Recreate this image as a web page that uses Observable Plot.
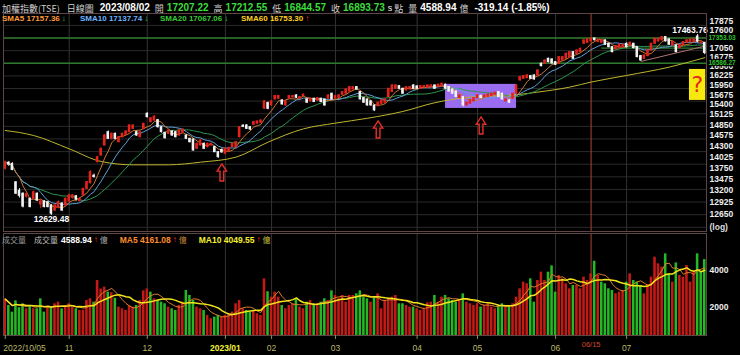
<!DOCTYPE html>
<html><head><meta charset="utf-8">
<script src="https://cdn.jsdelivr.net/npm/d3@7"></script>
<script src="https://cdn.jsdelivr.net/npm/@observablehq/plot@0.6"></script>
<style>
html,body{margin:0;padding:0;background:#000;}
#chart{position:relative;width:740px;height:355px;background:#000;overflow:hidden;font-family:"Liberation Sans","Noto Sans CJK TC",sans-serif;}
#chart svg{position:absolute;left:0;}
.row{position:absolute;white-space:nowrap;line-height:1;display:flex;align-items:center;}
.cjk{font-family:"Noto Sans CJK TC",sans-serif;}
.b{font-weight:bold;}
</style></head><body>
<div id="chart"></div>
<script>
// ---------- data ----------
const dates = [
"2022/10/05","2022/10/06","2022/10/07","2022/10/11","2022/10/12","2022/10/13","2022/10/14","2022/10/17","2022/10/18","2022/10/19","2022/10/20","2022/10/21","2022/10/24","2022/10/25","2022/10/26","2022/10/27","2022/10/28","2022/10/31",
"2022/11/01","2022/11/02","2022/11/03","2022/11/04","2022/11/07","2022/11/08","2022/11/09","2022/11/10","2022/11/11","2022/11/14","2022/11/15","2022/11/16","2022/11/17","2022/11/18","2022/11/21","2022/11/22","2022/11/23","2022/11/24","2022/11/25","2022/11/28","2022/11/29","2022/11/30",
"2022/12/01","2022/12/02","2022/12/05","2022/12/06","2022/12/07","2022/12/08","2022/12/09","2022/12/12","2022/12/13","2022/12/14","2022/12/15","2022/12/16","2022/12/19","2022/12/20","2022/12/21","2022/12/22","2022/12/23","2022/12/26","2022/12/27","2022/12/28","2022/12/29","2022/12/30",
"2023/01/03","2023/01/04","2023/01/05","2023/01/06","2023/01/09","2023/01/10","2023/01/11","2023/01/12","2023/01/13","2023/01/16","2023/01/17","2023/01/30","2023/01/31",
"2023/02/01","2023/02/02","2023/02/03","2023/02/06","2023/02/07","2023/02/08","2023/02/09","2023/02/10","2023/02/13","2023/02/14","2023/02/15","2023/02/16","2023/02/17","2023/02/20","2023/02/21","2023/02/22","2023/02/23","2023/02/24",
"2023/03/01","2023/03/02","2023/03/03","2023/03/06","2023/03/07","2023/03/08","2023/03/09","2023/03/10","2023/03/13","2023/03/14","2023/03/15","2023/03/16","2023/03/17","2023/03/20","2023/03/21","2023/03/22","2023/03/23","2023/03/24","2023/03/27","2023/03/28","2023/03/29","2023/03/30","2023/03/31",
"2023/04/06","2023/04/07","2023/04/10","2023/04/11","2023/04/12","2023/04/13","2023/04/14","2023/04/17","2023/04/18","2023/04/19","2023/04/20","2023/04/21","2023/04/24","2023/04/25","2023/04/26","2023/04/27","2023/04/28",
"2023/05/02","2023/05/03","2023/05/04","2023/05/05","2023/05/08","2023/05/09","2023/05/10","2023/05/11","2023/05/12","2023/05/15","2023/05/16","2023/05/17","2023/05/18","2023/05/19","2023/05/22","2023/05/23","2023/05/24","2023/05/25","2023/05/26","2023/05/29","2023/05/30","2023/05/31",
"2023/06/01","2023/06/02","2023/06/05","2023/06/06","2023/06/07","2023/06/08","2023/06/09","2023/06/12","2023/06/13","2023/06/14","2023/06/15","2023/06/16","2023/06/19","2023/06/20","2023/06/21","2023/06/26","2023/06/27","2023/06/28","2023/06/29","2023/06/30",
"2023/07/03","2023/07/04","2023/07/05","2023/07/06","2023/07/07","2023/07/10","2023/07/11","2023/07/12","2023/07/13","2023/07/14","2023/07/17","2023/07/18","2023/07/19","2023/07/20","2023/07/21","2023/07/24","2023/07/25","2023/07/26","2023/07/27","2023/07/28","2023/07/31",
"2023/08/01","2023/08/02"];

const open = [13730,13880,13850,13400,13200,13130,13060,13010,13010,13130,12880,12950,12930,12856,12740,12800,12900,12856,
12950,13030,13070,12960,13090,13245,13380,13560,13893,14061,14315,14660,14486,14616,14400,14530,14590,14660,14748,14660,14530,14748,
15151,14927,14970,14980,14792,14643,14616,14678,14660,14573,14643,14573,14486,14470,14230,14315,14357,14273,14315,14273,14145,14200,
14103,14160,14273,14273,14530,14830,14837,14792,14855,14885,14910,15288,15445,
15380,15546,15565,15519,15380,15565,15600,15658,15565,15640,15546,15492,15565,15510,15565,15546,15565,15705,
15565,15583,15677,15705,15769,15826,15893,15751,15583,15546,15492,15379,15361,15426,15455,15611,15751,15845,15921,15845,15798,15826,15940,
15912,15845,15880,15875,15885,15940,15893,15912,15960,15893,15826,15769,15583,15611,15380,15426,15492,
15583,15640,15602,15621,15640,15677,15751,15705,15492,15519,15565,15705,16084,16132,16151,16209,16228,16228,16570,16570,16720,16700,
16620,16570,16670,16720,16770,16920,16870,16920,17176,17207,17249,17340,17228,17207,17280,17176,17073,17002,17042,17073,
17176,17124,17176,17073,16800,16720,16800,16971,17176,17249,17280,17383,17310,17124,17124,17042,17124,17207,17228,17228,17400,
17200,17207.22];

const high = [13920,13910,13880,13420,13250,13150,13150,13030,13190,13150,12980,12970,12950,12880,12880,12960,12920,13030,
13120,13110,13090,13040,13260,13420,13680,13600,14040,14250,14600,14690,14640,14640,14550,14640,14700,14860,14860,14690,14680,14900,
15180,15050,15100,15000,14810,14660,14720,14700,14680,14730,14750,14590,14500,14480,14380,14470,14380,14380,14380,14290,14160,14230,
14250,14270,14380,14420,14810,14860,14860,14810,14950,14960,14990,15510,15470,
15510,15660,15660,15540,15510,15660,15660,15680,15630,15700,15560,15580,15580,15600,15580,15560,15680,15720,
15660,15680,15770,15840,15910,15910,15910,15770,15600,15560,15510,15390,15470,15540,15560,15860,15960,15960,15940,15860,15910,15910,15960,
15930,15940,15940,15960,15960,15960,15980,16010,15980,15910,15840,15780,15680,15630,15470,15540,15600,
15680,15670,15680,15700,15720,15750,15770,15720,15560,15540,15720,15960,16200,16230,16250,16230,16250,16390,16600,16690,16740,16720,
16640,16790,16790,16890,16940,16940,16990,17040,17300,17330,17353.03,17352,17330,17300,17300,17190,17090,17120,17160,17160,
17200,17230,17190,17090,16820,16840,16990,17190,17350,17350,17400,17400,17330,17240,17140,17140,17240,17300,17330,17330,17463.76,
17280,17212.55];

const low = [13700,13790,13680,13110,13030,12800,13030,12800,12990,12950,12780,12800,12800,12629.48,12720,12780,12720,12840,
12930,13000,12960,12930,13080,13230,13360,13500,13870,14040,14300,14470,14460,14460,14380,14510,14570,14640,14730,14550,14510,14720,
15040,14900,14950,14770,14640,14480,14600,14550,14510,14560,14620,14470,14380,14170,14210,14300,14210,14250,14300,14130,13990,14120,
14080,14140,14260,14260,14510,14780,14730,14700,14830,14860,14890,15270,15260,
15360,15530,15550,15390,15360,15550,15580,15570,15550,15620,15440,15480,15460,15500,15460,15360,15550,15530,
15550,15570,15660,15690,15750,15810,15810,15530,15440,15360,15360,15220,15340,15410,15440,15600,15740,15830,15830,15690,15780,15810,15830,
15830,15830,15870,15860,15870,15830,15880,15900,15830,15750,15690,15600,15570,15340,15360,15410,15480,
15570,15570,15590,15610,15630,15660,15600,15530,15480,15440,15550,15690,16060,16110,16130,16110,16090,16210,16480,16550,16600,16570,
16520,16550,16650,16700,16750,16700,16850,16900,17150,17190,17230,17260,17210,17190,17130,17050,16900,16980,17020,17050,
17050,17100,17020,16750,16640,16700,16780,16950,17160,17230,17260,17230,17130,17100,16900,17020,17100,17190,17210,17210,17200,
17150,16844.57];

const close = [13890,13830,13700,13130,13080,12830,13120,12820,13166,12970,12950,12820,12820,12666,12856,12933,12740,13010,
13088,13090,12990,13010,13245,13405,13647,13530,14019,14230,14573,14486,14616,14486,14530,14616,14678,14837,14837,14573,14660,14880,
15060,15030,15075,14792,14660,14503,14704,14573,14530,14704,14730,14486,14400,14187,14357,14443,14230,14357,14357,14145,14019,14137.69,
14230,14247,14357,14400,14792,14800,14748,14730,14927,14945,14970,15492,15288,
15492,15640,15640,15407,15492,15640,15640,15593,15611,15677,15455,15565,15473,15583,15473,15379,15658,15546,
15640,15658,15751,15826,15893,15893,15826,15546,15455,15379,15379,15243,15455,15519,15546,15845,15940,15940,15845,15705,15893,15893,15845,
15845,15921,15921,15940,15940,15845,15960,15989,15845,15769,15705,15611,15658,15379,15455,15519,15583,
15658,15583,15658,15677,15705,15733,15611,15546,15546,15455,15705,15940,16180,16209,16228,16132,16113,16374,16501,16670,16620,16578,
16540,16770,16770,16870,16920,16720,16971,17022,17280,17310,17331,17288,17310,17280,17145,17073,16920,17104,17145,17145,
17073,17207,17042,16770,16670,16820,16971,17176,17331,17331,17383,17249,17145,17228,16920,17124,17228,17280,17310,17310,17240,
17212.87,16893.73];

// 成交量 (億)
const volume = [2450,2110,1750,2360,1990,2200,1930,2110,1930,1930,2470,1750,1990,2020,2200,2290,1930,2100,
2200,2020,1930,1840,1850,2380,2470,2290,3460,3000,3100,2830,2800,2500,2020,1930,1840,2100,2020,2110,2380,2900,
3000,2830,2470,2380,2290,2200,2020,1930,1840,2110,2290,2920,2650,2380,2020,1930,1840,1570,1390,1480,1570,1480,
1570,1660,1750,2200,2380,1930,1840,1750,1840,1660,1570,3550,2850,
2560,2830,2560,2110,1930,2110,2200,2470,2020,1930,2290,2380,2200,2200,2290,2470,2380,2900,
2650,2470,2650,2290,2650,2650,2740,2900,2560,2470,2290,2560,2740,1930,2380,2470,2560,2650,2200,2200,2110,2020,2020,
1930,1840,1930,2250,2290,2650,2290,2560,2650,2470,2380,2290,2430,2740,2290,2200,2110,
2200,2020,2110,2200,2020,1930,2110,2200,2020,2110,2200,2560,3010,3370,3280,3550,2290,3460,3910,3460,3910,4250,
2830,3730,3550,3280,3010,3190,3190,3010,3640,3460,3820,4500,3730,3370,3280,3010,2920,2740,2830,2920,
3370,3820,3460,3370,3190,2740,3230,3640,4720,4360,4180,4900,3820,3370,4410,3730,3640,4270,3370,3910,4900,
3910,4588.94];

// SMA60
const sma60Dates = ["2022/10/05","2022/10/18","2022/11/01","2022/11/14","2022/11/25","2022/12/09","2022/12/22","2023/01/06","2023/01/31","2023/02/14","2023/03/01","2023/03/14","2023/03/28","2023/04/13","2023/04/27","2023/05/17","2023/05/25","2023/06/07","2023/06/15","2023/07/03","2023/07/19","2023/08/02"];
const sma60Vals = [14704,14573,14230,13910,13827,13827,13893,14019,14400,14748,14900,15030,15215,15455,15611,15677,15751,15893,16037,16228,16472,16753.30];

// axis ticks and labels
const priceTicks = [17875,17600,17050,16775,16500,16225,15950,15675,15400,15125,14850,14575,14300,14025,13750,13475,13200,12925,12650];
const gridLevels = [17750,17353.03,16965,16586.27,16215,15853,15499,15153,14814,14483,14159,13843,13533,13231,12935,12646,12363];
const keyLevels = [17353.03,16586.27];
const volTicks = [2000,4000];
const monthLabels = ["2022/10/05","11","12","2023/01","02","03","04","05","06","07"];
const monthDates = ["2022/10/05","2022/11/01","2022/12/01","2023/01/03","2023/02/01","2023/03/01","2023/04/06","2023/05/02","2023/06/01","2023/07/03"];
const markDate = "2023/06/15";

// annotations
const arrowDates = ["2022/12/30","2023/03/17","2023/05/03"];
const arrowPrices = [13640,14732,14837];
const boxDates = ["2023/04/18","2023/05/17"];
const boxPrices = [15297,15971];
const qBox = {x1:192.7, x2:197.3, lo:15518, hi:16404, xq:194.9, yq:15957};
const shortLevel = {from:"2023/06/20", price:17042};
const trendDates = ["2023/07/07","2023/08/02"];
const trendPrices = [16640,17103];

// header values
const hdr = {name:"加權指數(TSE)", kind:"日線圖", date:"2023/08/02", open:"17207.22", high:"17212.55", low:"16844.57", close:"16893.73", vol:"4588.94", chg:"-319.14 (-1.85%)"};
const smaLegend = [["SMA5","17157.36","↓"],["SMA10","17137.74","↓"],["SMA20","17067.06","↓"],["SMA60","16753.30","↑"]];
const volLegend = {vol:"4588.94", ma5:"4161.08", ma10:"4049.55"};

// ---------- build ----------
const n = dates.length;
const idx = d => dates.indexOf(d);
const days = dates.map((date,i)=>({i,date,open:open[i],high:high[i],low:low[i],close:close[i],vol:volume[i]}));
days.forEach((d,i)=>{ d.up = d.close >= d.open; d.vup = i===0 ? d.up : d.close >= days[i-1].close; });
const RED = "#e5231d", WHITE = "#f2f2f2";
const C5 = "#c97a35", C10 = "#5f9fd6", C20 = "#2d9650", C60 = "#bdb52e";
const font = "Liberation Sans, Noto Sans CJK TC, sans-serif";
const X = {type:"linear", domain:[-0.5, n-0.5], range:[3,706], axis:null};
const half = 0.36;
const monthIdx = monthDates.map(idx);
const markIdx = idx(markDate);
const sma60 = sma60Dates.map((d,k)=>({i:idx(d), v:sma60Vals[k]}));
const arrows = arrowDates.map((d,k)=>({i:idx(d), p:arrowPrices[k]}));
const box = {x1:idx(boxDates[0]), x2:idx(boxDates[1]), lo:boxPrices[0], hi:boxPrices[1]};
const trend = [{x1:idx(trendDates[0]), x2:idx(trendDates[1]), y1:trendPrices[0], y2:trendPrices[1]}];
const lowest = d3.least(days, d=>d.low);
const highest = d3.greatest(days, d=>d.high);

const upArrow = {draw(ctx, size){ const r = Math.sqrt(size/Math.PI);
  ctx.moveTo(0,-r); ctx.lineTo(0.55*r,-0.15*r); ctx.lineTo(0.22*r,-0.15*r); ctx.lineTo(0.22*r,r);
  ctx.lineTo(-0.22*r,r); ctx.lineTo(-0.22*r,-0.15*r); ctx.lineTo(-0.55*r,-0.15*r); ctx.closePath(); }};

const price = Plot.plot({
  width:740, height:232, marginTop:13, marginBottom:1, marginLeft:3, marginRight:34,
  style:{background:"#000", color:"#eee", fontFamily:font, overflow:"visible"},
  x: X,
  y: {type:"log", domain:[12650,17875], range:[214,21], axis:null},
  marks:[
    Plot.ruleY(gridLevels, {stroke:"#2a2a2a"}),
    Plot.ruleX(monthIdx.slice(1), {stroke:"#333"}),
    Plot.ruleY(keyLevels, {stroke:"#2c7a2c", strokeWidth:1.4}),
    Plot.ruleY([shortLevel], {y:"price", x1:idx(shortLevel.from), x2:n-0.5, stroke:"#2c7a2c", strokeWidth:1.2}),
    Plot.ruleX([markIdx], {stroke:"#a8452c"}),
    Plot.rect([box], {x1:"x1", x2:"x2", y1:"lo", y2:"hi", fill:"#9a6cf0"}),
    Plot.line(sma60, {x:"i", y:"v", stroke:C60, strokeWidth:1, curve:"monotone-x"}),
    Plot.lineY(days, Plot.windowY({k:20, anchor:"end"}, {x:"i", y:"close", stroke:C20, strokeWidth:1})),
    Plot.lineY(days, Plot.windowY({k:10, anchor:"end"}, {x:"i", y:"close", stroke:C10, strokeWidth:1})),
    Plot.lineY(days, Plot.windowY({k:5, anchor:"end"}, {x:"i", y:"close", stroke:C5, strokeWidth:1})),
    Plot.link(trend, {x1:"x1", x2:"x2", y1:"y1", y2:"y2", stroke:"#b27272", strokeWidth:1}),
    Plot.ruleX(days, {x:"i", y1:"low", y2:"high", stroke:d=>d.up?RED:WHITE, strokeWidth:1}),
    Plot.rect(days, {x1:d=>d.i-half, x2:d=>d.i+half, y1:"open", y2:"close", fill:d=>d.up?RED:WHITE, insetTop:-0.5, insetBottom:-0.5}),
    Plot.dot(arrows, {x:"i", y:"p", symbol:upArrow, r:8.5, stroke:"#e8302a", fill:"none", strokeWidth:1.4}),
    Plot.rect([qBox], {x1:"x1", x2:"x2", y1:"lo", y2:"hi", fill:"#f7e80e"}),
    Plot.text([qBox], {x:"xq", y:"yq", text:()=>"?", fill:"#e4281e", fontSize:22, fontFamily:"DejaVu Sans, sans-serif"}),
    Plot.text([lowest], {x:"i", y:"low", text:d=>d.low.toFixed(2), lineAnchor:"top", dy:1, fill:"#fff", fontSize:8.5, fontWeight:"bold"}),
    Plot.text([highest], {x:"i", y:"high", text:d=>d.high.toFixed(2), textAnchor:"end", dx:10, lineAnchor:"bottom", dy:-1, fill:"#fff", fontSize:8.5, fontWeight:"bold"}),
    Plot.frame({stroke:"#5e4646"}),
    Plot.text(priceTicks, {x:n-0.5, y:d=>d, text:d=>String(d), dx:3, textAnchor:"start", fill:"#eee", fontSize:8.5, fontWeight:"bold"}),
    Plot.text(keyLevels, {x:n-0.5, y:d=>d, text:d=>d.toFixed(2), dx:2, textAnchor:"start", fill:"#2fc02f", fontSize:6.5, fontWeight:"bold", stroke:"#000", strokeWidth:2.5}),
    Plot.text(["(log)"], {frameAnchor:"bottom-right", dx:3, dy:-2, textAnchor:"start", fill:"#ddd", fontSize:8.5, fontWeight:"bold"})
  ]
});
price.style.top = "0px";

const first = [{i:monthIdx[0], label:monthLabels[0]}];
const mids = monthLabels.map((l,k)=>({i:monthIdx[k], label:l})).slice(1);
const vol = Plot.plot({
  width:740, height:123, marginTop:1, marginBottom:20, marginLeft:3, marginRight:34,
  style:{background:"#000", color:"#eee", fontFamily:font, overflow:"visible"},
  x: X,
  y: {type:"linear", domain:[0,6000], range:[112,1], axis:null},
  marks:[
    Plot.ruleX(monthIdx.slice(1), {stroke:"#333"}),
    Plot.ruleX([markIdx], {stroke:"#a8452c"}),
    Plot.rect(days, {x1:d=>d.i-half, x2:d=>d.i+half, y1:0, y2:"vol", fill:d=>d.vup?"#c41a16":"#25b825", clip:true}),
    Plot.lineY(days, Plot.windowY({k:5, anchor:"end"}, {x:"i", y:"vol", stroke:"#e07d28", strokeWidth:1})),
    Plot.lineY(days, Plot.windowY({k:10, anchor:"end"}, {x:"i", y:"vol", stroke:"#f2e41c", strokeWidth:1.5})),
    Plot.frame({stroke:"#5e4646"}),
    Plot.text(volTicks, {x:n-0.5, y:d=>d, text:d=>String(d), dx:3, textAnchor:"start", fill:"#eee", fontSize:8.5, fontWeight:"bold"}),
    Plot.ruleX(monthIdx, {stroke:"#8a8a5a", insetTop:102, insetBottom:-4}),
    Plot.text(first, {x:"i", text:"label", frameAnchor:"bottom", dy:15, dx:-2, textAnchor:"start", fill:"#b9b968", fontSize:8.5}),
    Plot.text(mids.filter(d=>d.label!=="2023/01"), {x:"i", text:"label", frameAnchor:"bottom", dy:15, fill:"#b9b968", fontSize:8.5}),
    Plot.text(mids.filter(d=>d.label==="2023/01"), {x:"i", text:"label", frameAnchor:"bottom", dy:15, fill:"#f4f43a", fontSize:8.5, fontWeight:"bold"}),
    Plot.text([markIdx], {x:d=>d, text:()=>markDate.slice(5), frameAnchor:"bottom", dy:11, fill:"#d8452e", fontSize:7.5})
  ]
});
vol.style.top = "232px";

const chart = document.getElementById("chart");
chart.appendChild(price);
chart.appendChild(vol);

// header row 1
const G = "#3ddc3d";
const row1 = document.createElement("div");
row1.className = "row"; row1.style.left = "2px"; row1.style.top = "2px"; row1.style.height = "12px";
row1.innerHTML =
 `<span class="cjk" style="font-size:9px;color:#cfcfcf">${hdr.name}</span>`+
 `<span class="cjk" style="font-size:9px;color:#cfcfcf;margin-left:7px">${hdr.kind}</span>`+
 `<span class="b" style="font-size:10px;color:#fff;margin-left:6px">${hdr.date}</span>`+
 `<span class="cjk" style="font-size:9px;color:#cfcfcf;margin-left:5px">開</span><span class="b" style="font-size:10px;color:${G};margin-left:3px">${hdr.open}</span>`+
 `<span class="cjk" style="font-size:9px;color:#cfcfcf;margin-left:5px">高</span><span class="b" style="font-size:10px;color:${G};margin-left:3px">${hdr.high}</span>`+
 `<span class="cjk" style="font-size:9px;color:#cfcfcf;margin-left:5px">低</span><span class="b" style="font-size:10px;color:${G};margin-left:3px">${hdr.low}</span>`+
 `<span class="cjk" style="font-size:9px;color:#cfcfcf;margin-left:5px">收</span><span class="b" style="font-size:10px;color:${G};margin-left:3px">${hdr.close}</span>`+
 `<span style="font-size:9px;color:#eee;margin-left:3px">s</span><span class="cjk" style="font-size:9px;color:#cfcfcf;margin-left:2px">點</span>`+
 `<span class="cjk" style="font-size:9px;color:#cfcfcf;margin-left:5px">量</span><span class="b" style="font-size:10px;color:#fff;margin-left:3px">${hdr.vol}</span>`+
 `<span class="cjk" style="font-size:9px;color:#cfcfcf;margin-left:3px">億</span>`+
 `<span class="b" style="font-size:10px;color:#fff;margin-left:6px">${hdr.chg}</span>`;
chart.appendChild(row1);

// SMA legend row
const smaColors = ["#ff9a3a","#6cb4ff","#38cc38","#ffd21e"];
const smaLefts = [2,80,160,241];
smaLegend.forEach((s,k)=>{
  const el = document.createElement("div");
  el.className = "row"; el.style.left = smaLefts[k]+"px"; el.style.top = "14px"; el.style.height = "10px";
  el.innerHTML = `<span class="b" style="font-size:8px;color:${smaColors[k]}">${s[0]} ${s[1]}</span>`+
    `<span class="b" style="font-size:8px;color:${s[2]==="↑"?"#ff2a2a":"#2fd02f"};margin-left:2px">${s[2]}</span>`;
  chart.appendChild(el);
});

// volume legend row
const vrow = document.createElement("div");
vrow.className = "row"; vrow.style.left = "2px"; vrow.style.top = "235px"; vrow.style.height = "10px";
vrow.innerHTML =
 `<span class="cjk" style="font-size:8px;color:#9a9a9a">成交量</span>`+
 `<span class="cjk" style="font-size:8px;color:#bbb;margin-left:8px">成交量</span>`+
 `<span class="b" style="font-size:8.5px;color:#fff;margin-left:3px">${volLegend.vol}</span>`+
 `<span class="b" style="font-size:8px;color:#ff2a2a;margin-left:2px">↑</span>`+
 `<span class="cjk" style="font-size:8px;color:#aaa;margin-left:2px">億</span>`+
 `<span class="b" style="font-size:8.5px;color:#ff8c2a;margin-left:12px">MA5 ${volLegend.ma5}</span>`+
 `<span class="b" style="font-size:8px;color:#ff2a2a;margin-left:2px">↑</span>`+
 `<span class="cjk" style="font-size:8px;color:#c88a3a;margin-left:2px">億</span>`+
 `<span class="b" style="font-size:8.5px;color:#f4f030;margin-left:12px">MA10 ${volLegend.ma10}</span>`+
 `<span class="b" style="font-size:8px;color:#ff2a2a;margin-left:2px">↑</span>`+
 `<span class="cjk" style="font-size:8px;color:#c8c040;margin-left:2px">億</span>`;
chart.appendChild(vrow);
</script></body></html>
